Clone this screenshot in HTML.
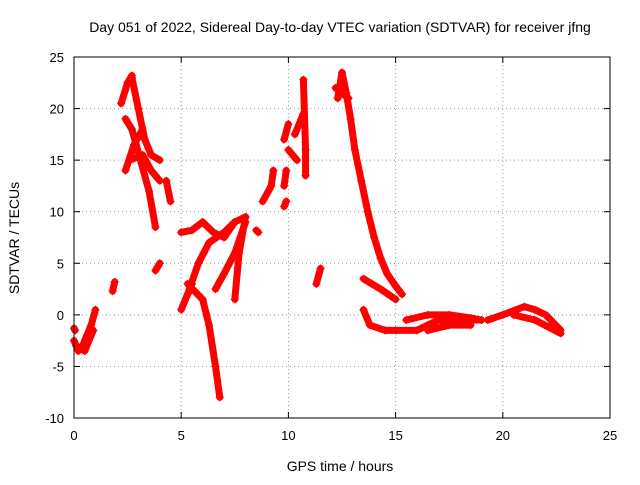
<!DOCTYPE html>
<html><head><meta charset="utf-8"><style>
body{margin:0;background:#fff;}
svg{font-family:"Liberation Sans",sans-serif;}
</style></head><body>
<svg id="chart" width="640" height="480" viewBox="0 0 640 480">
<text x="340" y="32" font-size="14" text-anchor="middle">Day 051 of 2022, Sidereal Day-to-day VTEC variation (SDTVAR) for receiver jfng</text>
<text x="340" y="471" font-size="14" text-anchor="middle">GPS time / hours</text>
<text transform="translate(19,238) rotate(-90)" font-size="14" text-anchor="middle">SDTVAR / TECUs</text>
<g id="grid"></g><g id="ticks"></g><g id="marks"></g>
<rect x="74" y="57" width="536" height="361" fill="none" stroke="#000" stroke-width="1"/>
</svg>
<script>
const xTicks=[0,5,10,15,20,25];
const yTicks=[-10,-5,0,5,10,15,20,25];
const traces=[
[[0,-1.3],[0.05,-1.5]],
[[0,-2.5],[0.2,-3.5],[0.4,-3],[0.6,-2],[0.8,-1],[1.0,0.5]],
[[0.1,-3],[0.5,-3.5],[0.9,-1.5]],
[[1.8,2.3],[1.9,3.2]],
[[2.2,20.5],[2.5,22.5],[2.7,23.2]],
[[2.7,23],[3.0,20],[3.3,17],[3.6,15.5],[4.0,15]],
[[2.4,19],[2.7,18],[3.1,15],[3.5,12],[3.8,8.5]],
[[2.4,14],[2.8,16.5],[3.2,18]],
[[2.6,15],[3.2,15.5],[3.6,14],[4.0,13]],
[[4.3,13],[4.5,11]],
[[3.8,4.3],[4.0,5]],
[[5.0,0.5],[5.3,2],[5.5,3]],
[[5.0,8],[5.5,8.2],[6,9],[6.5,8],[7,7.5],[7.5,9],[8,9.5]],
[[5.3,3],[6,1.5],[6.3,-1],[6.6,-5],[6.8,-8]],
[[5.3,2],[5.8,5],[6.3,7],[7,8],[7.5,9]],
[[6.6,2.5],[7,4],[7.5,6],[8,9]],
[[7.5,1.5],[7.7,6],[8,9.5]],
[[8.5,8.2],[8.6,8]],
[[8.8,11],[9.2,12.5],[9.3,14]],
[[9.8,10.5],[9.9,11]],
[[9.8,12.5],[9.9,14]],
[[9.8,17],[10,18.5]],
[[10,16],[10.4,15]],
[[10.3,17.5],[10.7,19.5]],
[[10.7,22.8],[10.8,16],[10.8,13.5]],
[[11.3,3],[11.5,4.5]],
[[12.3,21],[12.5,23.5],[12.7,21.5],[12.9,19],[13.1,16],[13.4,13],[13.7,10],[14.0,7.5],[14.3,5.5],[14.6,4],[15,2.8],[15.3,2]],
[[12.2,22],[12.8,21]],
[[13.5,3.5],[14.3,2.5],[15,1.5]],
[[13.5,0.5],[13.8,-1],[14.5,-1.5],[15,-1.5],[16,-1.5],[16.5,-1],[17,-0.5],[18,-0.5],[19,-0.5]],
[[15.5,-0.5],[16.5,0],[17.5,0],[18.5,-0.3],[19,-0.5]],
[[16.5,-1.5],[17.5,-1],[18.5,-1]],
[[19.3,-0.5],[20,0],[21,0.8],[21.5,0.5],[22,0],[22.7,-1.5]],
[[20.5,0],[21.5,-0.5],[22.7,-1.8]]
];
const L=74,R=610,T=57,B=418,xmin=0,xmax=25,ymin=-10,ymax=25;
const sx=v=>L+(v-xmin)/(xmax-xmin)*(R-L);
const sy=v=>B-(v-ymin)/(ymax-ymin)*(B-T);
const NS="http://www.w3.org/2000/svg";
const g=document.getElementById('grid'),tk=document.getElementById('ticks'),m=document.getElementById('marks');
function mk(t,a,p){const e=document.createElementNS(NS,t);for(const k in a)e.setAttribute(k,a[k]);p.appendChild(e);return e;}
xTicks.forEach(v=>{const x=sx(v);
 const l=mk('line',{x1:x,x2:x,y1:T,y2:B,stroke:'#999','stroke-dasharray':'1,3'},g);
 
 
 const t=mk('text',{x:x,y:B+22,'font-size':13,'text-anchor':'middle'},tk);t.textContent=v;
 
 
 mk('line',{x1:x,x2:x,y1:B,y2:B-6,stroke:'#000'},tk);mk('line',{x1:x,x2:x,y1:T,y2:T+6,stroke:'#000'},tk);});
yTicks.forEach(v=>{const y=sy(v);
 const l=mk('line',{x1:L,x2:R,y1:y,y2:y,stroke:'#999','stroke-dasharray':'1,3'},g);
 
 
 const t=mk('text',{x:L-10,y:y+5,'font-size':13,'text-anchor':'end'},tk);t.textContent=v;
 
 
 mk('line',{x1:L,x2:L+6,y1:y,y2:y,stroke:'#000'},tk);mk('line',{x1:R,x2:R-6,y1:y,y2:y,stroke:'#000'},tk);});
traces.forEach(tr=>{
 const pl=mk('polyline',{points:tr.map(p=>sx(p[0])+','+sy(p[1])).join(' '),fill:'none',stroke:'#f00','stroke-width':7,'stroke-linejoin':'round','stroke-linecap':'round'},m);
 
 
 tr.forEach(p=>{const x=sx(p[0]),y=sy(p[1]);
  const pt=mk('path',{d:`M${x-4},${y}H${x+4}M${x},${y-4}V${y+4}`,stroke:'#f00','stroke-width':1.2},m);
  
  });
});
</script>
</body></html>
